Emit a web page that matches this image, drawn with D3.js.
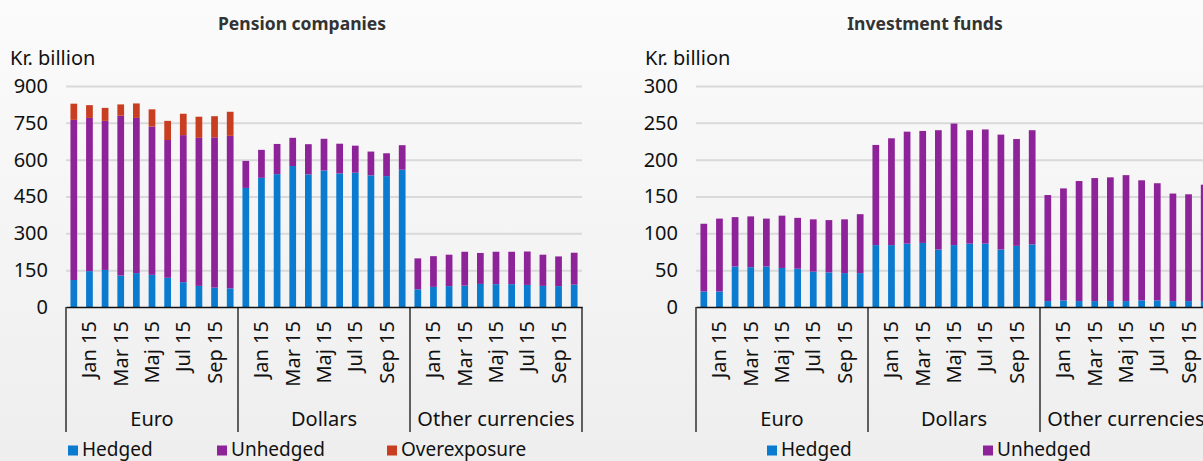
<!DOCTYPE html>
<html>
<head>
<meta charset="utf-8">
<script src="https://cdn.jsdelivr.net/npm/d3@7/dist/d3.min.js"></script>
<style>
  html, body { margin: 0; padding: 0; overflow: hidden; }
  svg { display: block; font-family: "Noto Sans", sans-serif; }
</style>
</head>
<body>
<svg id="chart" width="1203" height="461"></svg>
<script>
// ---- Data ----
const groups = ["Euro", "Dollars", "Other currencies"];
const months = ["Dec 14", "Jan 15", "Feb 15", "Mar 15", "Apr 15", "Maj 15", "Jun 15", "Jul 15", "Aug 15", "Sep 15", "Okt 15"];
const shownMonths = ["Jan 15", "Mar 15", "Maj 15", "Jul 15", "Sep 15"];

// Pension companies (Kr. billion), Euro | Dollars | Other currencies
const penHedged = [110,146,151,128,138,131,119,101,86,79,76,
                   485,526,541,574,540,556,544,547,536,533,559,
                   72,82,85,87,94,93,93,90,86,85,91];
const penUnhedged = [652,624,607,651,632,604,561,599,603,612,621,
                     110,114,123,115,123,129,121,110,97,93,100,
                     126,125,128,138,126,132,132,136,127,121,130];
const penOver = [66,52,53,46,59,70,78,87,86,86,98,
                 0,0,0,0,0,0,0,0,0,0,0,
                 0,0,0,0,0,0,0,0,0,0,0];

// Investment funds (Kr. billion)
const fundHedged = [21,21,55,54,55,53,52,48,47,46,46,
                    84,84,86,87,78,84,86,86,78,83,85,
                    8,9,8,8,8,8,9,9,8,8,8];
const fundUnhedged = [92,99,67,69,65,71,69,71,71,73,80,
                      136,145,152,152,162,165,154,155,156,145,155,
                      144,152,163,167,168,171,163,159,146,145,158];

const penTicks = [0,150,300,450,600,750,900];
const fundTicks = [0,50,100,150,200,250,300];

const colors = { hedged: "#0a7bcf", unhedged: "#8e2298", over: "#c93e20" };

// ---- Drawing ----
const svg = d3.select("#chart");
const defs = svg.append("defs");
const grad = defs.append("linearGradient").attr("id", "bg").attr("x1", 0).attr("y1", 0).attr("x2", 0).attr("y2", 1);
grad.append("stop").attr("offset", "0%").attr("stop-color", "#fbfbfb");
grad.append("stop").attr("offset", "100%").attr("stop-color", "#eeeeee");
svg.append("rect").attr("width", 1203).attr("height", 461).attr("fill", "url(#bg)");

function drawPanel(cfg) {
  const g = svg.append("g");
  const keys = [];
  groups.forEach(gr => months.forEach(m => keys.push(gr + "|" + m)));
  const rows = keys.map((k, i) => {
    const r = { key: k };
    cfg.series.forEach(s => r[s.key] = s.values[i]);
    return r;
  });

  const x = d3.scaleBand().domain(keys).range([cfg.x0, cfg.x1]).paddingInner(0.57).paddingOuter(0.285);
  const y = d3.scaleLinear().domain([0, cfg.yMax]).range([307, 86]);

  // gridlines + y labels
  const yAxis = d3.axisLeft(y).tickValues(cfg.ticks).tickSize(-(cfg.x1 - cfg.x0)).tickPadding(18);
  const ya = g.append("g").attr("transform", `translate(${cfg.x0},0)`).call(yAxis);
  ya.select(".domain").remove();
  ya.selectAll(".tick line").attr("stroke", "#d9d9d9").attr("stroke-width", 2)
    .filter(d => d === 0).remove();
  ya.selectAll(".tick text").attr("font-size", 20).attr("fill", "#111").attr("font-family", "Noto Sans");

  // stacked bars
  const stack = d3.stack().keys(cfg.series.map(s => s.key));
  const layers = stack(rows);
  g.selectAll(".layer").data(layers).join("g")
    .attr("fill", d => colors[d.key])
    .selectAll("rect").data(d => d).join("rect")
    .attr("x", d => x(d.data.key))
    .attr("width", x.bandwidth())
    .attr("y", d => y(d[1]))
    .attr("height", d => Math.max(0, y(d[0]) - y(d[1])));

  // x axis with month labels
  const shownKeys = keys.filter(k => shownMonths.includes(k.split("|")[1]));
  const xAxis = d3.axisBottom(x).tickValues(shownKeys).tickSize(0).tickFormat(k => k.split("|")[1]);
  const xa = g.append("g").attr("transform", "translate(0,307)").call(xAxis);
  xa.select(".domain").attr("stroke", "#111").attr("stroke-width", 1.3);
  xa.selectAll(".tick text")
    .attr("font-size", 20).attr("fill", "#111").attr("font-family", "Noto Sans")
    .attr("transform", "rotate(-90)")
    .attr("text-anchor", "end")
    .attr("x", -14).attr("y", 0).attr("dy", "0.35em");

  // group separators and labels
  const gw = x.step() * months.length;
  for (let i = 0; i <= groups.length; i++) {
    g.append("line").attr("x1", cfg.x0 + i * gw).attr("x2", cfg.x0 + i * gw)
      .attr("y1", 307).attr("y2", 432).attr("stroke", "#111").attr("stroke-width", 1.3);
  }
  groups.forEach((gr, i) => {
    g.append("text").attr("x", cfg.x0 + (i + 0.5) * gw).attr("y", 426)
      .attr("text-anchor", "middle").attr("font-size", 20).attr("fill", "#111").text(gr);
  });

  // titles
  g.append("text").attr("x", cfg.titleX).attr("y", 29.5).attr("text-anchor", "middle")
    .attr("font-size", 17.5).attr("font-weight", "bold").attr("fill", "#333").text(cfg.title);
  g.append("text").attr("x", cfg.unitX).attr("y", 65).attr("font-size", 20).attr("fill", "#111").text("Kr. billion");

  // legend
  cfg.series.forEach((s, i) => {
    const lx = cfg.legendX[i];
    g.append("rect").attr("x", lx).attr("y", 445.5).attr("width", 10).attr("height", 10).attr("fill", colors[s.key]);
    g.append("text").attr("x", lx + 14).attr("y", 456).attr("font-size", 19).attr("fill", "#111").text(s.label);
  });
}

drawPanel({
  x0: 66, x1: 582, yMax: 900, ticks: penTicks,
  title: "Pension companies", titleX: 302, unitX: 10,
  legendX: [68, 217, 387],
  series: [
    { key: "hedged", label: "Hedged", values: penHedged },
    { key: "unhedged", label: "Unhedged", values: penUnhedged },
    { key: "over", label: "Overexposure", values: penOver }
  ]
});

drawPanel({
  x0: 696, x1: 1212, yMax: 300, ticks: fundTicks,
  title: "Investment funds", titleX: 925, unitX: 645,
  legendX: [767, 983],
  series: [
    { key: "hedged", label: "Hedged", values: fundHedged },
    { key: "unhedged", label: "Unhedged", values: fundUnhedged }
  ]
});
</script>
</body>
</html>
